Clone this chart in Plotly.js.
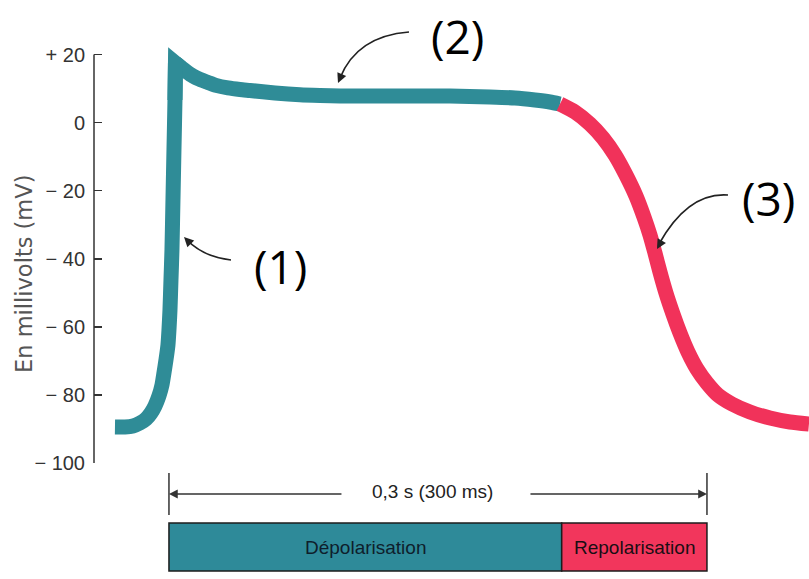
<!DOCTYPE html>
<html>
<head>
<meta charset="utf-8">
<script src="https://cdn.plot.ly/plotly-3.0.1.min.js"></script>
<style>
html,body{margin:0;padding:0;background:#fff;}
#chart{width:809px;height:579px;}
#chart path.js-line{stroke-linejoin:miter !important;stroke-miterlimit:10 !important;}
</style>
</head>
<body>
<div id="chart"></div>
<script>
// ---- data (time in ms, membrane potential in mV) ----
const depolTime = [-30.11, -24.54, -20.07, -16.17, -12.82, -10.04, -7.81, -5.58, -3.90, -2.79, -1.67, -0.56, 0.00, 0.56, 1.12, 1.67, 2.23, 2.79, 3.35, 3.62,
                   6.69, 9.93, 13.38, 17.29, 21.75, 26.21, 32.90, 39.59, 45.17, 59.11, 73.06, 84.2, 95.36, 128.81, 156.69, 179.0, 192.94, 204.09, 212.45, 218.03];
const depolMv   = [-89.42, -89.42, -89.13, -88.25, -87.07, -85.31, -83.25, -80.31, -77.08, -73.55, -69.73, -65.32, -60.92, -55.05, -46.23, -37.41, -22.72, -8.02, 6.67, 17.54,
                   16.22, 14.96, 13.72, 12.69, 11.81, 10.96, 10.20, 9.73, 9.46, 8.73, 8.20, 7.99, 7.85, 7.85, 7.85, 7.55, 7.26, 6.67, 6.08, 5.49];
const repolTime = [218.03, 226.40, 234.76, 242.01, 248.70, 254.84, 260.41, 264.87, 268.22, 271.01, 273.79, 277.14, 281.04, 284.95, 289.41, 294.43, 300.0, 306.14, 313.94, 323.98, 335.13, 346.28, 356.88];
const repolMv   = [5.49, 3.14, -0.38, -4.50, -9.49, -15.37, -21.54, -27.71, -33.0, -38.29, -43.87, -50.04, -56.21, -61.80, -67.38, -72.38, -76.49, -80.02, -82.66, -85.01, -86.78, -87.95, -88.54];

const tickValues = [20, 0, -20, -40, -60, -80, -100];
const tickLabels = ['+ 20', '0', '\u2212 20', '\u2212 40', '\u2212 60', '\u2212 80', '\u2212 100'];

const phaseNames = ['Dépolarisation', 'Repolarisation'];
const phaseStart = [0, 219];
const phaseEnd   = [219, 300];
const durationLabel = '0,3 s (300 ms)';
const durationStart = 0, durationEnd = 300;

const TEAL = '#2F8C97', RED = '#F1325A';
const TEAL_BOX = '#2E8A99', RED_BOX = '#F2365C';
const SANS = '"Liberation Sans", Arial, sans-serif';

// plot geometry helpers for decorations (pixel -> paper)
const L = 94, T = 41, W = 715, H = 422;
const px = x => (x - L) / W;
const py = y => (T + H - y) / H;

// split the depolarisation curve at its spike so the tip stays sharp
const peak = depolMv.indexOf(Math.max(...depolMv));
const upT = depolTime.slice(0, peak + 1), upV = depolMv.slice(0, peak + 1);
const plT = depolTime.slice(peak), plV = depolMv.slice(peak);
const tipT = depolTime.slice(peak - 1, peak + 2), tipV = depolMv.slice(peak - 1, peak + 2);

const teal = s => ({color: TEAL, width: 15, shape: s, smoothing: 0.6});
const traces = [
  {x: upT, y: upV, mode: 'lines', line: teal('spline'), hoverinfo: 'skip', showlegend: false},
  {x: plT, y: plV, mode: 'lines', line: teal('spline'), hoverinfo: 'skip', showlegend: false},
  {x: tipT, y: tipV, mode: 'lines', line: {color: TEAL, width: 15, shape: 'linear'}, hoverinfo: 'skip', showlegend: false},
  {x: repolTime, y: repolMv, mode: 'lines', line: {color: RED, width: 15, shape: 'spline', smoothing: 0.6}, hoverinfo: 'skip', showlegend: false}
];

const shapes = [
  // y axis line from -100 to +20
  {type: 'line', xref: 'paper', yref: 'y', x0: 0, x1: 0, y0: -100, y1: 20, line: {color: '#333', width: 1.5}},
  // duration bracket end ticks
  {type: 'line', xref: 'x', yref: 'paper', x0: durationStart, x1: durationStart, y0: py(473), y1: py(515), line: {color: '#333', width: 1.5}},
  {type: 'line', xref: 'x', yref: 'paper', x0: durationEnd, x1: durationEnd, y0: py(473), y1: py(515), line: {color: '#333', width: 1.5}},
  // phase boxes
  {type: 'rect', xref: 'x', yref: 'paper', x0: phaseStart[0], x1: phaseEnd[0], y0: py(571), y1: py(523), fillcolor: TEAL_BOX, line: {color: '#1c1c1c', width: 1.5}},
  {type: 'rect', xref: 'x', yref: 'paper', x0: phaseStart[1], x1: phaseEnd[1], y0: py(571), y1: py(523), fillcolor: RED_BOX, line: {color: '#1c1c1c', width: 1.5}},
  // curved pointer arrows
  {type: 'path', xref: 'paper', yref: 'paper', path: `M ${px(231)},${py(260)} Q ${px(203)},${py(257)} ${px(186)},${py(239)}`, line: {color: '#222', width: 1.6}},
  {type: 'path', xref: 'paper', yref: 'paper', path: `M ${px(409)},${py(32)} Q ${px(357)},${py(36)} ${px(340)},${py(78)}`, line: {color: '#222', width: 1.6}},
  {type: 'path', xref: 'paper', yref: 'paper', path: `M ${px(728)},${py(195)} Q ${px(688)},${py(192)} ${px(659)},${py(244)}`, line: {color: '#222', width: 1.6}}
];

const annotations = [
  // y axis title
  {xref: 'paper', yref: 'paper', x: px(24), y: py(274), text: 'En millivolts (mV)', textangle: -90, showarrow: false,
   font: {family: 'DejaVu Sans, sans-serif', size: 22.5, color: '#555'}, xanchor: 'center', yanchor: 'middle'},
  // duration bracket
  {xref: 'x', yref: 'paper', x: (durationStart + durationEnd) / 2 - 3, y: py(491), text: durationLabel, showarrow: false,
   font: {family: SANS, size: 19, color: '#222'}, xanchor: 'center', yanchor: 'middle'},
  {xref: 'x', yref: 'paper', x: durationStart, y: py(494), text: '', showarrow: true, ax: 174, ay: 0,
   arrowhead: 2, arrowsize: 1.1, arrowwidth: 1.6, arrowcolor: '#333'},
  {xref: 'x', yref: 'paper', x: durationEnd, y: py(494), text: '', showarrow: true, ax: -178, ay: 0,
   arrowhead: 2, arrowsize: 1.1, arrowwidth: 1.6, arrowcolor: '#333'},
  // phase labels
  {xref: 'x', yref: 'paper', x: (phaseStart[0] + phaseEnd[0]) / 2, y: py(547), text: phaseNames[0], showarrow: false,
   font: {family: SANS, size: 19, color: '#0e1e2c'}, xanchor: 'center', yanchor: 'middle'},
  {xref: 'x', yref: 'paper', x: (phaseStart[1] + phaseEnd[1]) / 2, y: py(547), text: phaseNames[1], showarrow: false,
   font: {family: SANS, size: 19, color: '#1a0e14'}, xanchor: 'center', yanchor: 'middle'},
  // numbered callouts
  {xref: 'paper', yref: 'paper', x: px(280), y: py(266), text: '(1)', showarrow: false,
   font: {family: 'Open Sans, sans-serif', size: 46, color: '#000'}, xanchor: 'center', yanchor: 'middle'},
  {xref: 'paper', yref: 'paper', x: px(458), y: py(36), text: '(2)', showarrow: false,
   font: {family: 'Open Sans, sans-serif', size: 46, color: '#000'}, xanchor: 'center', yanchor: 'middle'},
  {xref: 'paper', yref: 'paper', x: px(768), y: py(198), text: '(3)', showarrow: false,
   font: {family: 'Open Sans, sans-serif', size: 46, color: '#000'}, xanchor: 'center', yanchor: 'middle'},
  // arrowheads of the curved pointers
  {xref: 'paper', yref: 'paper', x: px(184), y: py(237), text: '', showarrow: true, ax: 6, ay: 6,
   arrowhead: 2, arrowsize: 1.2, arrowwidth: 1.6, arrowcolor: '#222'},
  {xref: 'paper', yref: 'paper', x: px(338), y: py(83), text: '', showarrow: true, ax: 3, ay: -7,
   arrowhead: 2, arrowsize: 1.2, arrowwidth: 1.6, arrowcolor: '#222'},
  {xref: 'paper', yref: 'paper', x: px(657), y: py(249), text: '', showarrow: true, ax: 4, ay: -7,
   arrowhead: 2, arrowsize: 1.2, arrowwidth: 1.6, arrowcolor: '#222'}
];

const layout = {
  width: 809, height: 579,
  margin: {l: L, r: 809 - L - W, t: T, b: 579 - T - H, pad: 0},
  paper_bgcolor: '#fff', plot_bgcolor: '#fff',
  showlegend: false,
  xaxis: {range: [-41.8, 356.9], visible: false, fixedrange: true},
  yaxis: {
    range: [-100, 24], tickmode: 'array', tickvals: tickValues, ticktext: tickLabels,
    ticks: 'inside', ticklen: 8, tickwidth: 1.5, tickcolor: '#333',
    showgrid: false, zeroline: false, showline: false, fixedrange: true,
    ticklabelstandoff: 8,
    tickfont: {family: SANS, size: 20, color: '#333'}
  },
  shapes: shapes,
  annotations: annotations
};

Plotly.newPlot('chart', traces, layout, {displayModeBar: false, staticPlot: true});
</script>
</body>
</html>
